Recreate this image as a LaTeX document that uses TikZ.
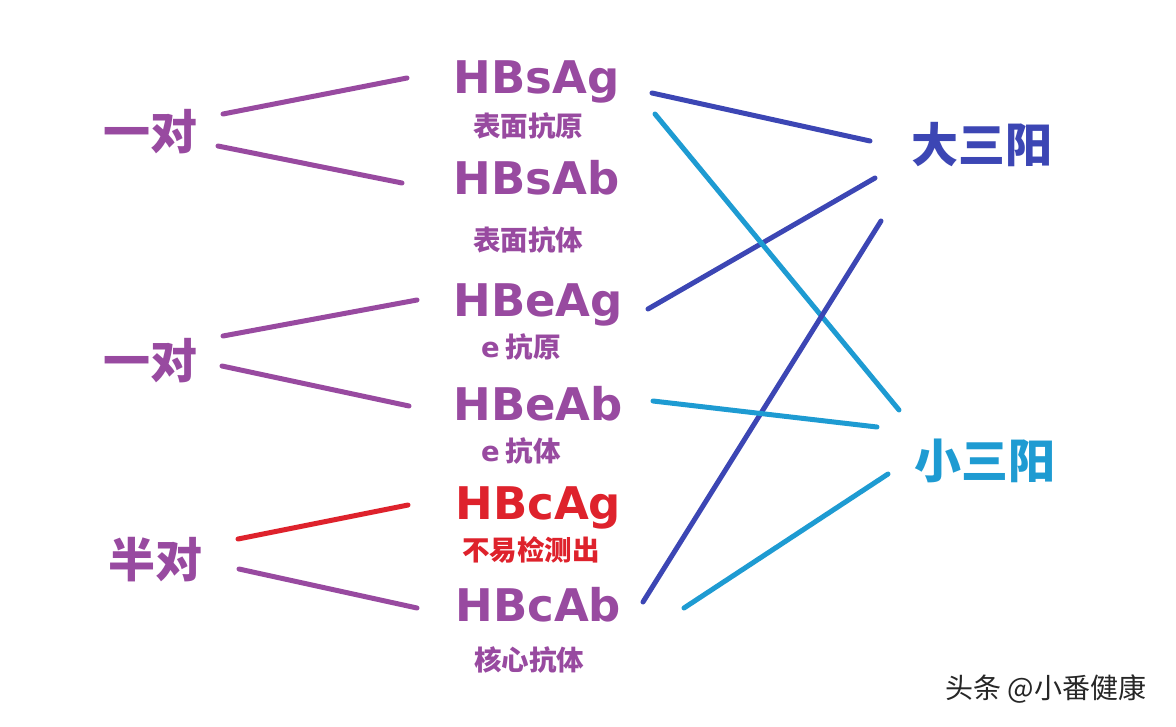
\documentclass[tikz,border=0pt]{standalone}
\usepackage{fontspec}
\setmainfont{DejaVu Sans}
\newfontfamily\cjk{Noto Sans CJK SC}
\usepackage{tikz}

\definecolor{hbpurple}{RGB}{152,74,160}
\definecolor{hbred}{RGB}{222,34,44}
\definecolor{dablue}{RGB}{60,70,180}
\definecolor{xiaoblue}{RGB}{30,155,210}

\begin{document}
\begin{tikzpicture}[x=1pt,y=-1pt,line width=5pt,line cap=round,
  ab/.style={font=\bfseries\fontsize{45}{45}\selectfont,inner sep=0pt,anchor=base west},
  sub/.style={font=\cjk\bfseries\fontsize{27.5}{27.5}\selectfont,inner sep=0pt},
  big/.style={font=\cjk\bfseries\fontsize{47}{47}\selectfont,inner sep=0pt}]
\useasboundingbox (0,0) rectangle (1176,726);

% left
\node (dui1) [big,hbpurple] at (150,132) {一对}; \node (dui2) [big,hbpurple] at (150,361) {一对}; \node (bandui) [big,hbpurple] at (155,560) {半对};

% middle
\node (hbsag) [ab,hbpurple] at (451,93) {HBsAg}; \node (sag) [sub,hbpurple] at (528,126) {表面抗原};
\node (hbsab) [ab,hbpurple] at (451,194) {HBsAb}; \node (sab) [sub,hbpurple] at (528,240) {表面抗体};
\node (hbeag) [ab,hbpurple] at (451,316) {HBeAg}; \node (eag) [sub,hbpurple] at (521,347) {{\rmfamily e} 抗原};
\node (hbeab) [ab,hbpurple] at (451,420) {HBeAb}; \node (eab) [sub,hbpurple] at (521,451) {{\rmfamily e} 抗体};
\node (hbcag) [ab,hbred] at (453,519) {HBcAg}; \node (cag) [sub,hbred] at (531,550) {不易检测出};
\node (hbcab) [ab,hbpurple] at (453,621) {HBcAb}; \node (cab) [sub,hbpurple] at (529,660) {核心抗体};

% right
\node (dasanyang) [big,dablue] at (982,145) {大三阳}; \node (xiaosanyang) [big,xiaoblue] at (985,461) {小三阳};
\node (mark) [font=\cjk\fontsize{28}{28}\selectfont,black!85,inner sep=0pt] at (1046,689) {头条 @小番健康};

% line ends
\coordinate (l1) at (223,114); \coordinate (l2) at (218,146); \coordinate (l3) at (223,336); \coordinate (l4) at (222,366);
\coordinate (l5) at (238,539); \coordinate (l6) at (239,569);
\coordinate (m1) at (407,78); \coordinate (m2) at (402,183); \coordinate (m3) at (417,300); \coordinate (m4) at (409,406);
\coordinate (m5) at (408,505); \coordinate (m6) at (417,608);
\coordinate (sg) at (652,93); \coordinate (sg2) at (655,114); \coordinate (eg) at (648,309); \coordinate (eb) at (653,401);
\coordinate (cb) at (643,602); \coordinate (cb2) at (684,608);
\coordinate (da1) at (870,141); \coordinate (da2) at (875,178); \coordinate (da3) at (881,221);
\coordinate (xi1) at (899,410); \coordinate (xi2) at (877,427); \coordinate (xi3) at (888,474);

\draw [hbpurple] (l1) -- (m1); \draw [hbpurple] (l2) -- (m2); \draw [hbpurple] (l3) -- (m3); \draw [hbpurple] (l4) -- (m4);
\draw [hbred] (l5) -- (m5); \draw [hbpurple] (l6) -- (m6);

\draw [dablue] (sg) -- (da1); \draw [dablue] (eg) -- (da2);
\draw [xiaoblue] (sg2) -- (xi1); \draw [dablue] (cb) -- (da3);
\draw [xiaoblue] (eb) -- (xi2); \draw [xiaoblue] (cb2) -- (xi3);
\end{tikzpicture}
\end{document}
